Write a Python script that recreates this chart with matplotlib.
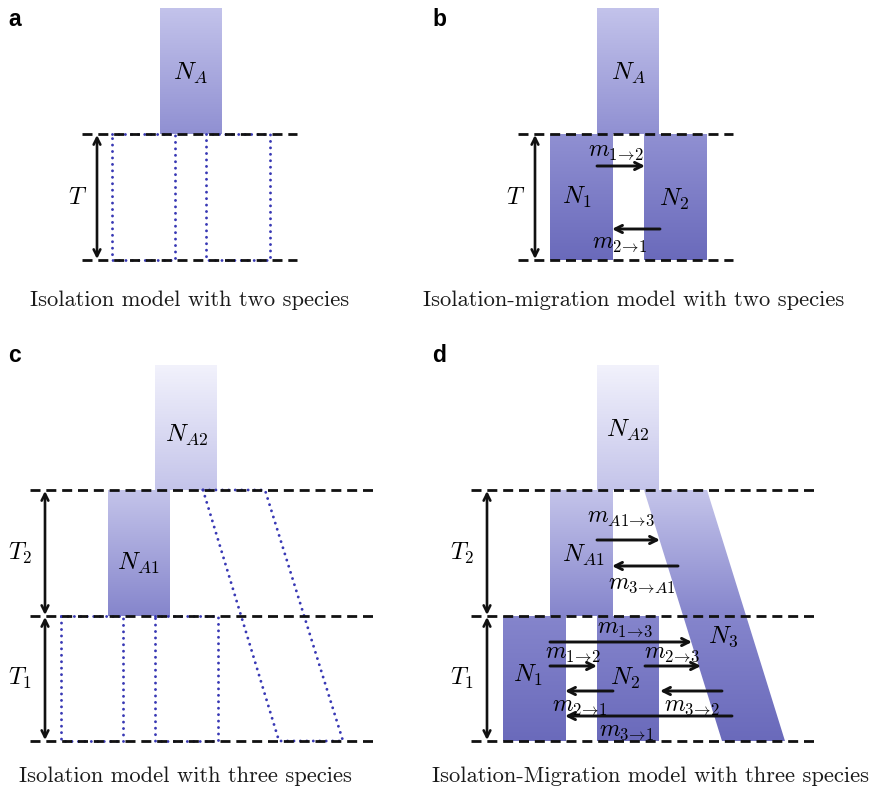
import numpy as np
import matplotlib
matplotlib.use("Agg")
import matplotlib.pyplot as plt
from matplotlib.patches import Polygon
from matplotlib.colors import to_rgb

plt.rcParams['mathtext.fontset'] = 'cm'

W, H = 871, 790

# ---------------- diagram geometry (pixel coordinates) ----------------
# gradient stops: (y, colour)
grad_top = [(8, '#c3c3eb'), (134, '#9090d2'), (260, '#6a6abb')]
grad_bot = [(365, '#f2f2fc'), (490, '#c4c4ea'), (616, '#8585cc'), (741, '#6a6abb')]

# populations drawn as filled shapes: (x_top_left, x_top_right, x_bot_left, x_bot_right, y_top, y_bot)
pops_a = [(160, 222, 160, 222, 8, 134)]
pops_b = [(597, 659, 597, 659, 8, 134),
          (550, 613, 550, 613, 134, 260),
          (644, 707, 644, 707, 134, 260)]
pops_c = [(155, 217, 155, 217, 365, 490),
          (108, 170, 108, 170, 490, 616)]
pops_d = [(597, 659, 597, 659, 365, 490),
          (550, 613, 550, 613, 490, 616),
          (644, 707, 722, 785, 490, 741),
          (503, 566, 503, 566, 616, 741),
          (597, 659, 597, 659, 616, 741)]

# dotted lineage outlines (isolation models)
lineages_a = [(112, 175, 112, 175, 134, 260), (206, 270, 206, 270, 134, 260)]
lineages_c = [(61, 123, 61, 123, 616, 741), (155, 218, 155, 218, 616, 741),
              (203, 265, 279, 343, 490, 741)]

# dashed time lines: (x0, x1, y)
dashed = [(82, 297, 134), (82, 297, 260),
          (518, 733, 134), (518, 733, 260),
          (30, 375, 490), (30, 375, 616), (30, 375, 741),
          (471, 815, 490), (471, 815, 616), (471, 815, 741)]

# double arrows for time spans: (x, y0, y1, label, label_x)
spans = [(97, 134, 260, r'$T$', 78),
         (535, 134, 260, r'$T$', 516),
         (45, 490, 616, r'$T_2$', 20),
         (45, 616, 741, r'$T_1$', 20),
         (487, 490, 616, r'$T_2$', 462),
         (487, 616, 741, r'$T_1$', 462)]

AR = r'\!\rightarrow\!'
# migration arrows: (x_from, x_to, y, label, label_x, label_y)
migr = [(597, 645, 166, r'$m_{1' + AR + r'2}$', 616, 150),
        (660, 612, 229, r'$m_{2' + AR + r'1}$', 620, 242),
        (597, 660, 540, r'$m_{A1' + AR + r'3}$', 621, 516),
        (678, 612, 566, r'$m_{3' + AR + r'A1}$', 642, 583),
        (550, 692, 642, r'$m_{1' + AR + r'3}$', 625, 627),
        (550, 597, 666, r'$m_{1' + AR + r'2}$', 573, 652),
        (645, 701, 666, r'$m_{2' + AR + r'3}$', 672, 652),
        (613, 565, 691, r'$m_{2' + AR + r'1}$', 580, 705),
        (722, 660, 691, r'$m_{3' + AR + r'2}$', 692, 705),
        (732, 565, 716, r'$m_{3' + AR + r'1}$', 627, 730)]

# population labels: (x, y, text)
pop_labels = [(190, 73, r'$N_A$'), (628, 73, r'$N_A$'),
              (577, 197, r'$N_1$'), (674, 199, r'$N_2$'),
              (187, 435, r'$N_{A2}$'), (138, 563, r'$N_{A1}$'),
              (628, 430, r'$N_{A2}$'), (583, 555, r'$N_{A1}$'),
              (723, 637, r'$N_3$'), (528, 675, r'$N_1$'), (625, 678, r'$N_2$')]

captions = [(190, 300, 'Isolation model with two species'),
            (634, 300, 'Isolation-migration model with two species'),
            (185, 776, 'Isolation model with three species'),
            (650, 776, 'Isolation-Migration model with three species')]

panel_letters = [(8, 20, 'a'), (432, 20, 'b'), (8, 356, 'c'), (432, 356, 'd')]

# ---------------- drawing ----------------
fig = plt.figure(figsize=(W / 100, H / 100), dpi=100)
ax = fig.add_axes([0, 0, 1, 1])
ax.set_axis_off()


def grad_colors(ys, stops):
    sy = [s[0] for s in stops]
    cols = np.array([to_rgb(s[1]) for s in stops])
    return np.stack([np.interp(ys, sy, cols[:, k]) for k in range(3)], axis=-1)


def fill_pop(p, stops):
    xtl, xtr, xbl, xbr, yt, yb = p
    poly = Polygon([(xtl, yt), (xtr, yt), (xbr, yb), (xbl, yb)], closed=True,
                   facecolor='none', edgecolor='none')
    ax.add_patch(poly)
    ys = np.linspace(yt, yb, 200)
    img = grad_colors(ys, stops)[:, None, :].repeat(2, axis=1)
    x0, x1 = min(xtl, xbl), max(xtr, xbr)
    im = ax.imshow(img, extent=(x0, x1, yb, yt), origin='upper', aspect='auto',
                   interpolation='bilinear', zorder=1)
    im.set_clip_path(poly)


for p in pops_a + pops_b:
    fill_pop(p, grad_top)
for p in pops_c + pops_d:
    fill_pop(p, grad_bot)

for p in lineages_a + lineages_c:
    xtl, xtr, xbl, xbr, yt, yb = p
    ax.add_patch(Polygon([(xtl, yt), (xtr, yt), (xbr, yb), (xbl, yb)], closed=True,
                         facecolor='none', edgecolor='#3838b4', lw=2.1,
                         linestyle=(0, (0.01, 2.2)), capstyle='round', zorder=2))

for x0, x1, y in dashed:
    ax.plot([x0, x1], [y, y], color='#111111', lw=2.0, dashes=(3.6, 2.1), zorder=3,
            solid_capstyle='butt', dash_capstyle='butt')

for x, y0, y1, lab, lx in spans:
    ax.annotate('', xy=(x, y0 + 1), xytext=(x, y1 - 1),
                arrowprops=dict(arrowstyle='<->', lw=1.9, color='#111111',
                                mutation_scale=12, shrinkA=0, shrinkB=0), zorder=4)
    ax.text(lx, (y0 + y1) / 2, lab, fontsize=17.5, ha='center', va='center', zorder=5)

for xf, xt, y, lab, lx, ly in migr:
    ax.annotate('', xy=(xt, y), xytext=(xf, y),
                arrowprops=dict(arrowstyle='->', lw=2.1, color='#111111',
                                mutation_scale=13, shrinkA=0, shrinkB=0), zorder=4)
    ax.text(lx, ly, lab, fontsize=17, ha='center', va='center', zorder=5)

for x, y, lab in pop_labels:
    ax.text(x, y, lab, fontsize=18, ha='center', va='center', zorder=5)

for x, y, lab in captions:
    ax.text(x, y, lab, fontsize=16.2, family='cmr10', ha='center', va='center',
            color='#1a1a1a', zorder=5)

for x, y, lab in panel_letters:
    ax.text(x, y, lab, fontsize=16.5, family='Liberation Sans', weight='bold',
            ha='left', va='center', zorder=5)

ax.set_xlim(0, W)
ax.set_ylim(H, 0)
fig.savefig('out.png', dpi=100)
